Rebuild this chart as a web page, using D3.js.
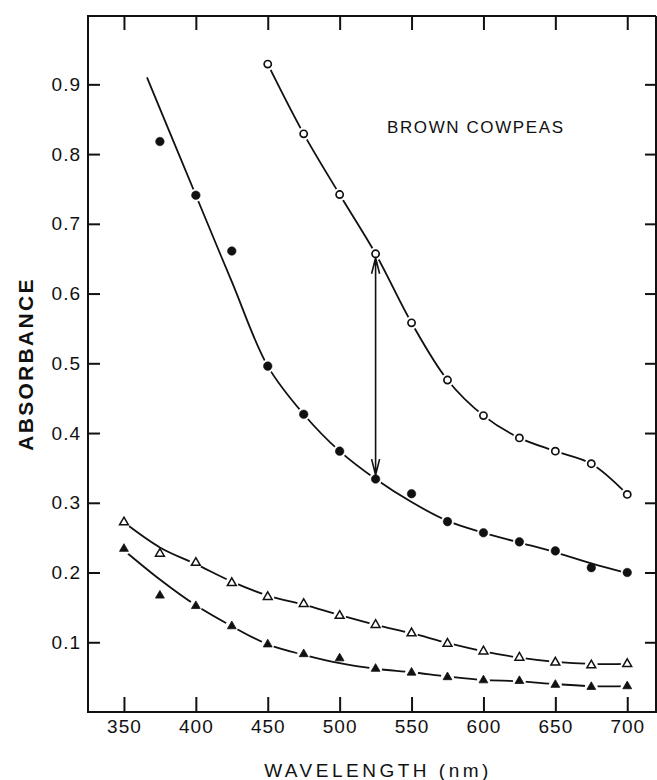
<!DOCTYPE html>
<html>
<head>
<meta charset="utf-8">
<script src="https://cdn.jsdelivr.net/npm/d3@7"></script>
<style>
  body { margin: 0; background: #fff; }
  svg { display: block; font-family: 'Liberation Sans', Arial, sans-serif; }
  .axis text { font-size: 19px; fill: #111; letter-spacing: 1px; }
  .axis line { stroke: #111; stroke-width: 2; }
  .axis path { display: none; }
  .curve { fill: none; stroke: #111; stroke-width: 1.8; }
</style>
</head>
<body>
<div id="chart"></div>
<script>
// tick values
var xTicks = [350, 400, 450, 500, 550, 600, 650, 700];
var yTicks = [0.1, 0.2, 0.3, 0.4, 0.5, 0.6, 0.7, 0.8, 0.9];

// measured points (open circles)
var openCircleNm  = [450, 475, 500, 525, 550, 575, 600, 625, 650, 675, 700];
var openCircleAbs = [0.929, 0.829, 0.742, 0.657, 0.558, 0.476, 0.425, 0.393, 0.374, 0.356, 0.312];

// filled circles
var filledCircleNm  = [375, 400, 425, 450, 475, 500, 525, 550, 575, 600, 625, 650, 675, 700];
var filledCircleAbs = [0.818, 0.741, 0.661, 0.496, 0.427, 0.374, 0.334, 0.313, 0.273, 0.257, 0.244, 0.231, 0.207, 0.200];

// open triangles
var openTriNm  = [350, 375, 400, 425, 450, 475, 500, 525, 550, 575, 600, 625, 650, 675, 700];
var openTriAbs = [0.272, 0.227, 0.214, 0.185, 0.165, 0.155, 0.138, 0.125, 0.113, 0.098, 0.087, 0.078, 0.071, 0.067, 0.069];

// filled triangles
var filledTriNm  = [350, 375, 400, 425, 450, 475, 500, 525, 550, 575, 600, 625, 650, 675, 700];
var filledTriAbs = [0.234, 0.167, 0.152, 0.123, 0.097, 0.083, 0.077, 0.062, 0.0565, 0.050, 0.0455, 0.0445, 0.039, 0.036, 0.037];

// hand drawn curves through the points
var openCircleFitNm  = openCircleNm;
var openCircleFitAbs = openCircleAbs;
var filledCircleFitNm  = [366, 400, 425, 450, 475, 500, 525, 550, 575, 600, 625, 650, 675, 700];
var filledCircleFitAbs = [0.91, 0.741, 0.617, 0.496, 0.427, 0.374, 0.334, 0.301, 0.274, 0.257, 0.243, 0.229, 0.213, 0.199];
var openTriFitNm  = openTriNm;
var openTriFitAbs = [0.272, 0.236, 0.212, 0.187, 0.167, 0.154, 0.139, 0.125, 0.113, 0.099, 0.087, 0.078, 0.072, 0.069, 0.069];
var filledTriFitNm  = filledTriNm;
var filledTriFitAbs = [0.232, 0.190, 0.153, 0.123, 0.097, 0.082, 0.070, 0.062, 0.057, 0.051, 0.046, 0.044, 0.040, 0.037, 0.037];

// the arrow sits between the two circle series at this wavelength
var arrowNm = 525;

var W = 657, H = 780;
var frame = { left: 88, right: 656, top: 16, bottom: 712 };

var x = d3.scaleLinear().domain([325, 720]).range([frame.left, frame.right]);
var y = d3.scaleLinear().domain([0, 0.998]).range([frame.bottom, frame.top]);

var svg = d3.select('#chart').append('svg')
    .attr('width', W)
    .attr('height', H);

function zip(nm, abs) {
    return nm.map(function(d, i) { return { nm: d, abs: abs[i] }; });
}

var series = [
    { pts: zip(openCircleNm, openCircleAbs), fit: zip(openCircleFitNm, openCircleFitAbs), kind: 'openCircle' },
    { pts: zip(filledCircleNm, filledCircleAbs), fit: zip(filledCircleFitNm, filledCircleFitAbs), kind: 'filledCircle' },
    { pts: zip(openTriNm, openTriAbs), fit: zip(openTriFitNm, openTriFitAbs), kind: 'openTri' },
    { pts: zip(filledTriNm, filledTriAbs), fit: zip(filledTriFitNm, filledTriFitAbs), kind: 'filledTri' }
];

// AXES (ticks point inward on all four sides)
svg.append('g')
    .attr('class', 'axis')
    .attr('transform', 'translate(' + frame.left + ',0)')
    .call(d3.axisLeft(y).tickValues(yTicks).tickSize(-12).tickPadding(7).tickFormat(d3.format('.1f')));

svg.append('g')
    .attr('class', 'axis')
    .attr('transform', 'translate(' + frame.right + ',0)')
    .call(d3.axisRight(y).tickValues(yTicks).tickSize(-11).tickFormat(''));

svg.append('g')
    .attr('class', 'axis')
    .attr('transform', 'translate(0,' + frame.bottom + ')')
    .call(d3.axisBottom(x).tickValues(xTicks).tickSize(-15).tickPadding(8).tickFormat(d3.format('d')));

svg.append('g')
    .attr('class', 'axis')
    .attr('transform', 'translate(0,' + frame.top + ')')
    .call(d3.axisTop(x).tickValues(xTicks).tickSize(-14).tickFormat(''));

// frame
svg.append('path')
    .attr('d', 'M' + frame.right + ',' + frame.top + 'H' + frame.left + 'V' + frame.bottom + 'H' + frame.right + 'V' + frame.top)
    .attr('fill', 'none')
    .attr('stroke', '#111')
    .attr('stroke-width', 2);

// CURVES
var line = d3.line()
    .x(function(d) { return x(d.nm); })
    .y(function(d) { return y(d.abs); })
    .curve(d3.curveCatmullRom.alpha(0.5));

svg.selectAll('.curve')
    .data(series)
    .enter().append('path')
    .attr('class', 'curve')
    .attr('d', function(s) { return line(s.fit); });

// white halo so the curve breaks at each marker it passes through
series.forEach(function(s) {
    var fitAt = {};
    s.fit.forEach(function(d) { fitAt[d.nm] = d.abs; });
    svg.append('g').selectAll('circle')
        .data(s.pts.filter(function(d) {
            return fitAt[d.nm] !== undefined && Math.abs(fitAt[d.nm] - d.abs) < 0.005;
        }))
        .enter().append('circle')
        .attr('cx', function(d) { return x(d.nm); })
        .attr('cy', function(d) { return y(d.abs); })
        .attr('r', 6.5)
        .attr('fill', '#fff');
});

// ARROW between the circle series
var arrowTop = y(openCircleAbs[openCircleNm.indexOf(arrowNm)]) + 4;
var arrowBot = y(filledCircleAbs[filledCircleNm.indexOf(arrowNm)]) - 4;
var ax = x(arrowNm);
svg.append('path')
    .attr('d', 'M' + ax + ',' + arrowTop + 'V' + arrowBot +
        'M' + (ax - 4) + ',' + (arrowTop + 16) + 'L' + ax + ',' + arrowTop + 'L' + (ax + 4) + ',' + (arrowTop + 16) +
        'M' + (ax - 4) + ',' + (arrowBot - 16) + 'L' + ax + ',' + arrowBot + 'L' + (ax + 4) + ',' + (arrowBot - 16))
    .attr('fill', 'none')
    .attr('stroke', '#111')
    .attr('stroke-width', 1.6);

// MARKERS
var tri = d3.symbol().type(d3.symbolTriangle).size(34);
series.forEach(function(s) {
    var g = svg.append('g');
    if (s.kind === 'openCircle' || s.kind === 'filledCircle') {
        g.selectAll('circle')
            .data(s.pts)
            .enter().append('circle')
            .attr('cx', function(d) { return x(d.nm); })
            .attr('cy', function(d) { return y(d.abs); })
            .attr('r', s.kind === 'openCircle' ? 3.6 : 4.3)
            .attr('fill', s.kind === 'openCircle' ? '#fff' : '#111')
            .attr('stroke', '#111')
            .attr('stroke-width', s.kind === 'openCircle' ? 1.7 : 0.5);
    } else {
        g.selectAll('path')
            .data(s.pts)
            .enter().append('path')
            .attr('d', tri)
            .attr('transform', function(d) { return 'translate(' + x(d.nm) + ',' + y(d.abs) + ')'; })
            .attr('fill', s.kind === 'openTri' ? '#fff' : '#111')
            .attr('stroke', '#111')
            .attr('stroke-width', s.kind === 'openTri' ? 1.5 : 0.8);
    }
});

// LABELS
svg.append('text')
    .attr('x', 387)
    .attr('y', 133)
    .attr('font-size', 17)
    .attr('letter-spacing', 1.6)
    .attr('fill', '#111')
    .text('BROWN COWPEAS');

svg.append('text')
    .attr('transform', 'translate(33,' + 364 + ') rotate(-90)')
    .attr('text-anchor', 'middle')
    .attr('font-size', 21)
    .attr('font-weight', 'bold')
    .attr('letter-spacing', 2.3)
    .attr('fill', '#111')
    .text('ABSORBANCE');

svg.append('text')
    .attr('x', 378)
    .attr('y', 777)
    .attr('text-anchor', 'middle')
    .attr('font-size', 19)
    .attr('letter-spacing', 3.5)
    .attr('fill', '#111')
    .text('WAVELENGTH (nm)');
</script>
</body>
</html>
